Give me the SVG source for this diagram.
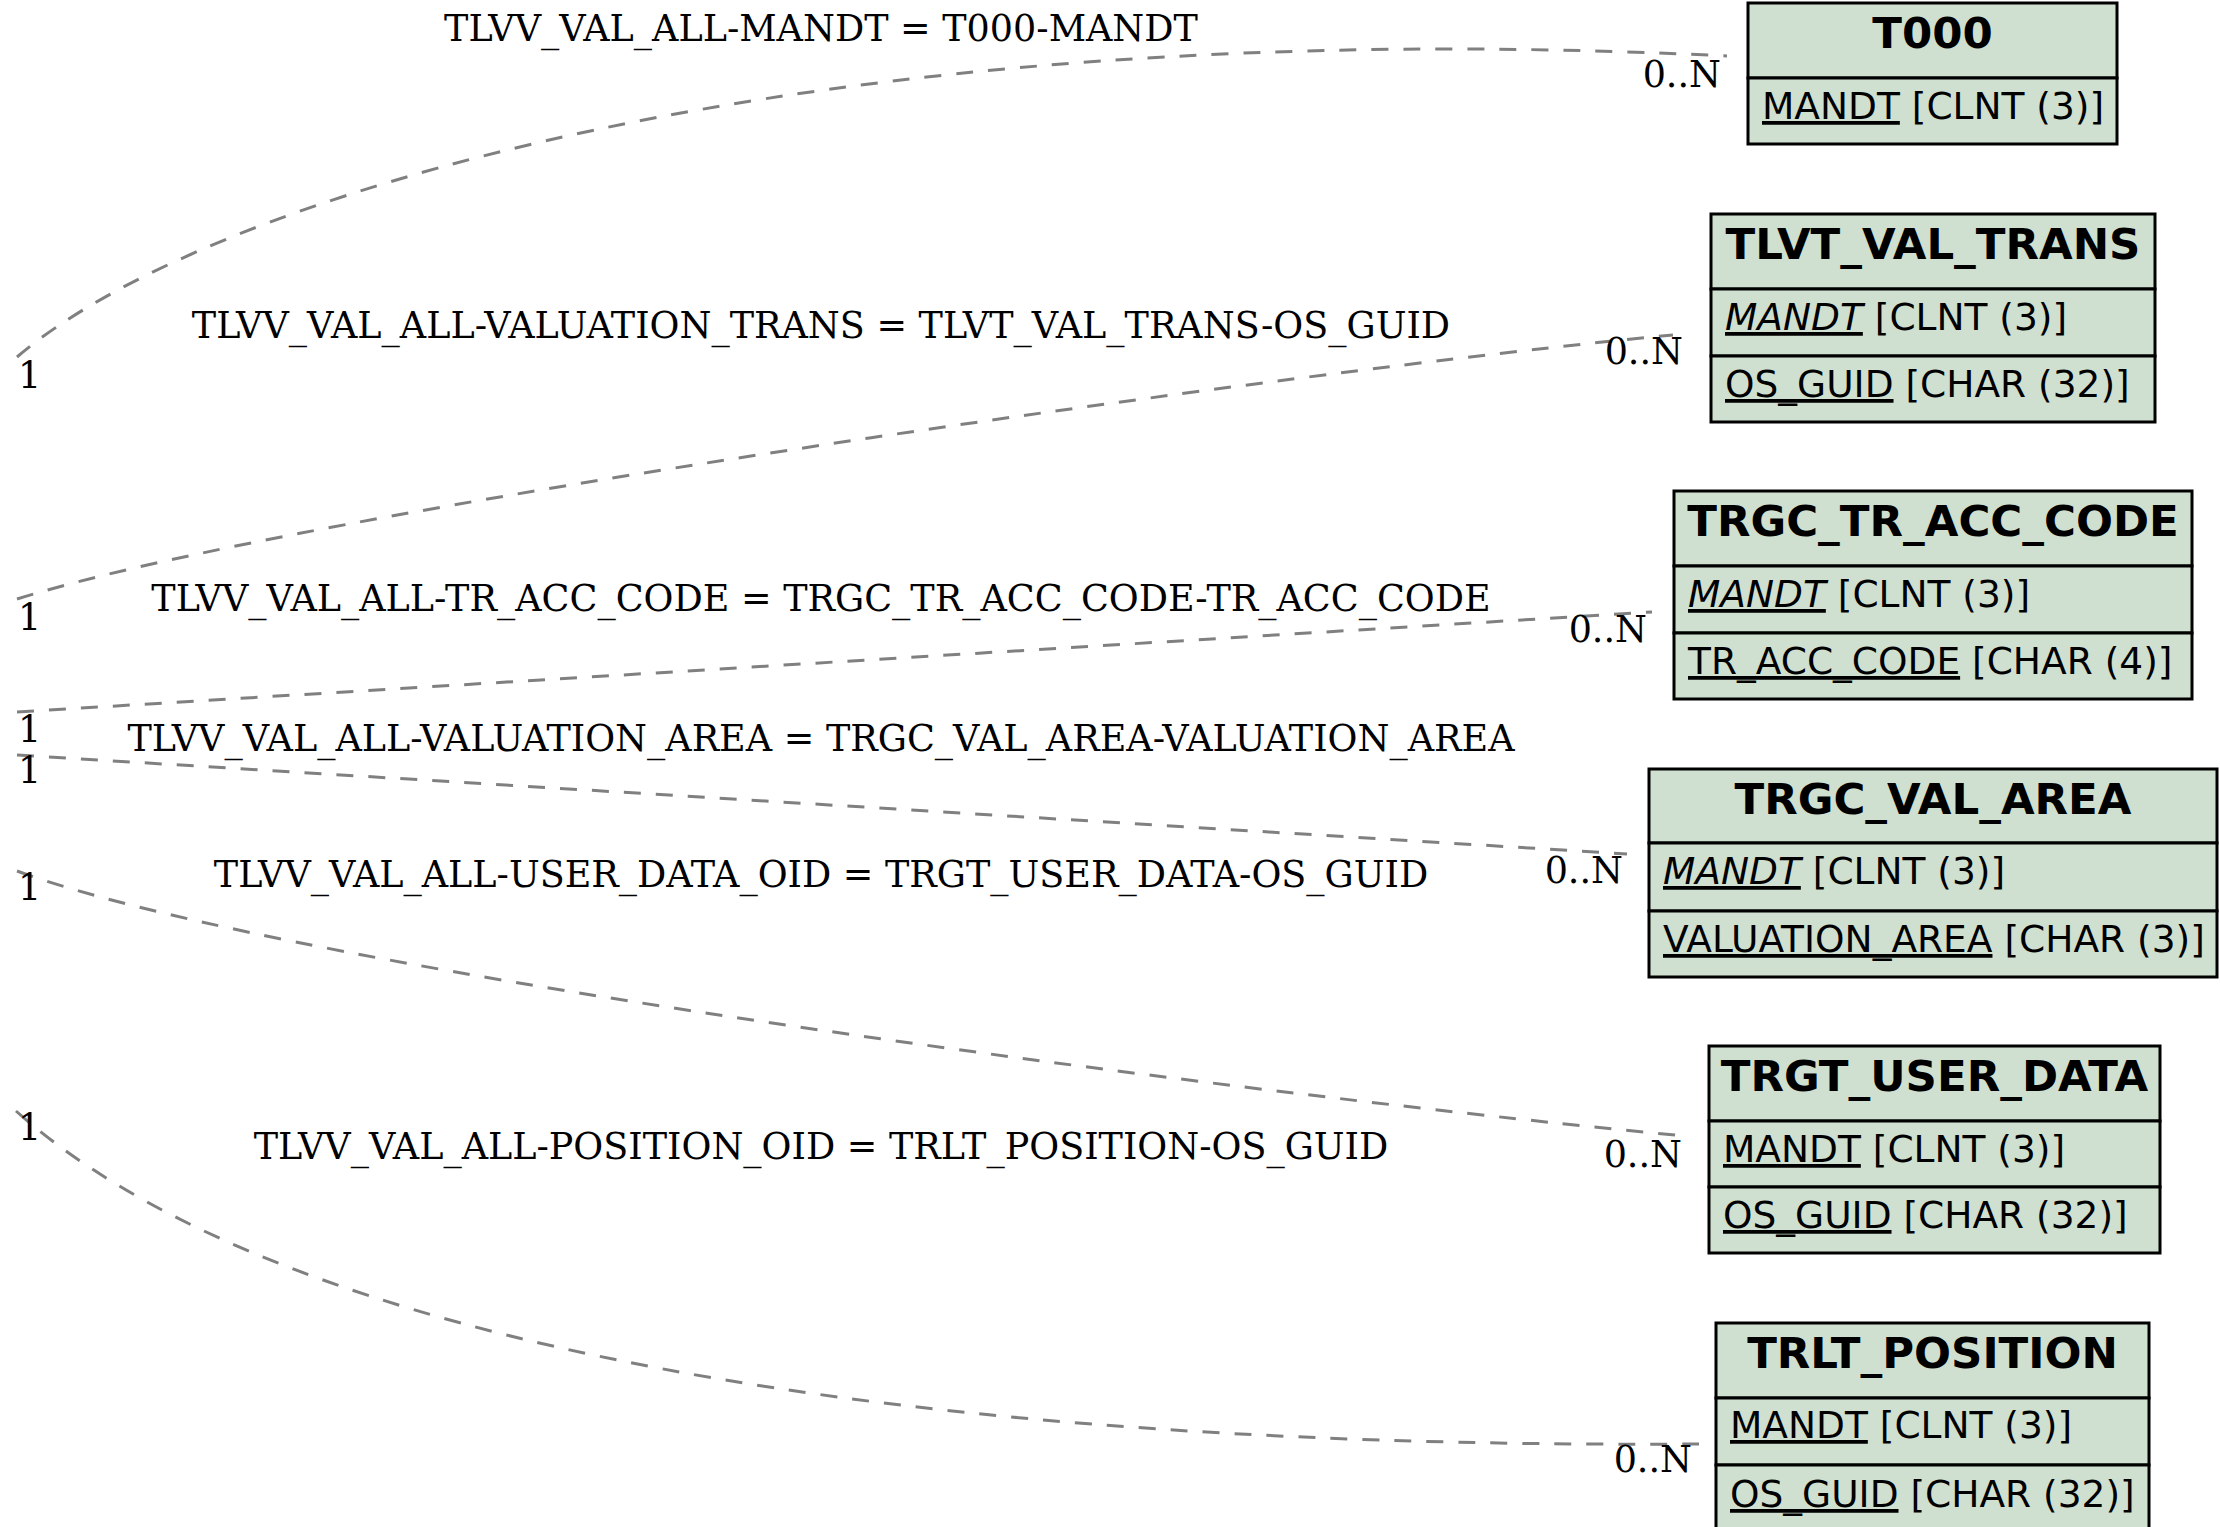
<svg xmlns="http://www.w3.org/2000/svg" width="2220" height="1527" viewBox="0 0 2220 1527">
<style>
.box{fill:#d0e0d0;stroke:#000;stroke-width:3}
.hdr{font-family:"DejaVu Sans",sans-serif;font-weight:bold;font-size:43.5px;text-anchor:middle;fill:#000}
.row{font-family:"DejaVu Sans",sans-serif;font-size:37.5px;fill:#000}
.u{text-decoration:underline}
.i{font-style:italic}
.edge{fill:none;stroke:#808080;stroke-width:3;stroke-dasharray:17,15}
.lbl{font-family:"DejaVu Serif",serif;font-size:36.5px;fill:#000}
.mid{text-anchor:middle}
.end{text-anchor:end}
</style>
<rect width="2220" height="1527" fill="#fff"/>
<g id="connectors">
  <path class="edge" d="M17,357 C200,200 800,10 1727,56"/>
  <path class="edge" d="M17,599 C300,510 1300,370 1673,335"/>
  <path class="edge" d="M17,712 L1652,612"/>
  <path class="edge" d="M17,755 L1627,854"/>
  <path class="edge" d="M17,871 C300,975 1300,1100 1685,1136"/>
  <path class="edge" d="M16,1111 C250,1320 800,1450 1699,1444"/>
  <text class="lbl mid" x="821" y="41">TLVV_VAL_ALL-MANDT = T000-MANDT</text>
  <text class="lbl mid" x="821" y="338">TLVV_VAL_ALL-VALUATION_TRANS = TLVT_VAL_TRANS-OS_GUID</text>
  <text class="lbl mid" x="821" y="611">TLVV_VAL_ALL-TR_ACC_CODE = TRGC_TR_ACC_CODE-TR_ACC_CODE</text>
  <text class="lbl mid" x="821" y="751">TLVV_VAL_ALL-VALUATION_AREA = TRGC_VAL_AREA-VALUATION_AREA</text>
  <text class="lbl mid" x="821" y="887">TLVV_VAL_ALL-USER_DATA_OID = TRGT_USER_DATA-OS_GUID</text>
  <text class="lbl mid" x="821" y="1159">TLVV_VAL_ALL-POSITION_OID = TRLT_POSITION-OS_GUID</text>
  <text class="lbl" x="18" y="388">1</text>
  <text class="lbl" x="18" y="630">1</text>
  <text class="lbl" x="18" y="742">1</text>
  <text class="lbl" x="18" y="783">1</text>
  <text class="lbl" x="18" y="900">1</text>
  <text class="lbl" x="18" y="1140">1</text>
  <text class="lbl end" x="1721" y="87">0..N</text>
  <text class="lbl end" x="1683" y="364">0..N</text>
  <text class="lbl end" x="1647" y="642">0..N</text>
  <text class="lbl end" x="1623" y="883">0..N</text>
  <text class="lbl end" x="1682" y="1167">0..N</text>
  <text class="lbl end" x="1692" y="1472">0..N</text>
</g>
<g id="T000">
  <rect class="box" x="1748" y="3" width="369" height="75"/>
  <rect class="box" x="1748" y="78" width="369" height="66"/>
  <text class="hdr" x="1932.5" y="48">T000</text>
  <text class="row" x="1762" y="119"><tspan class="u">MANDT</tspan> [CLNT (3)]</text>
</g>
<g id="TLVT_VAL_TRANS">
  <rect class="box" x="1711" y="214" width="444" height="75"/>
  <rect class="box" x="1711" y="289" width="444" height="67"/>
  <rect class="box" x="1711" y="356" width="444" height="66"/>
  <text class="hdr" x="1933" y="259">TLVT_VAL_TRANS</text>
  <text class="row" x="1725" y="330"><tspan class="u i">MANDT</tspan> [CLNT (3)]</text>
  <text class="row" x="1725" y="397"><tspan class="u">OS_GUID</tspan> [CHAR (32)]</text>
</g>
<g id="TRGC_TR_ACC_CODE">
  <rect class="box" x="1674" y="491" width="518" height="75"/>
  <rect class="box" x="1674" y="566" width="518" height="67"/>
  <rect class="box" x="1674" y="633" width="518" height="66"/>
  <text class="hdr" x="1933" y="536">TRGC_TR_ACC_CODE</text>
  <text class="row" x="1688" y="607"><tspan class="u i">MANDT</tspan> [CLNT (3)]</text>
  <text class="row" x="1688" y="674"><tspan class="u">TR_ACC_CODE</tspan> [CHAR (4)]</text>
</g>
<g id="TRGC_VAL_AREA">
  <rect class="box" x="1649" y="769" width="568" height="74"/>
  <rect class="box" x="1649" y="843" width="568" height="68"/>
  <rect class="box" x="1649" y="911" width="568" height="66"/>
  <text class="hdr" x="1933" y="814">TRGC_VAL_AREA</text>
  <text class="row" x="1663" y="884"><tspan class="u i">MANDT</tspan> [CLNT (3)]</text>
  <text class="row" x="1663" y="952"><tspan class="u">VALUATION_AREA</tspan> [CHAR (3)]</text>
</g>
<g id="TRGT_USER_DATA">
  <rect class="box" x="1709" y="1046" width="451" height="75"/>
  <rect class="box" x="1709" y="1121" width="451" height="66"/>
  <rect class="box" x="1709" y="1187" width="451" height="66"/>
  <text class="hdr" x="1934.5" y="1091">TRGT_USER_DATA</text>
  <text class="row" x="1723" y="1162"><tspan class="u">MANDT</tspan> [CLNT (3)]</text>
  <text class="row" x="1723" y="1228"><tspan class="u">OS_GUID</tspan> [CHAR (32)]</text>
</g>
<g id="TRLT_POSITION">
  <rect class="box" x="1716" y="1323" width="433" height="75"/>
  <rect class="box" x="1716" y="1398" width="433" height="67"/>
  <rect class="box" x="1716" y="1465" width="433" height="67"/>
  <text class="hdr" x="1932.5" y="1368">TRLT_POSITION</text>
  <text class="row" x="1730" y="1438"><tspan class="u">MANDT</tspan> [CLNT (3)]</text>
  <text class="row" x="1730" y="1507"><tspan class="u">OS_GUID</tspan> [CHAR (32)]</text>
</g>
</svg>
